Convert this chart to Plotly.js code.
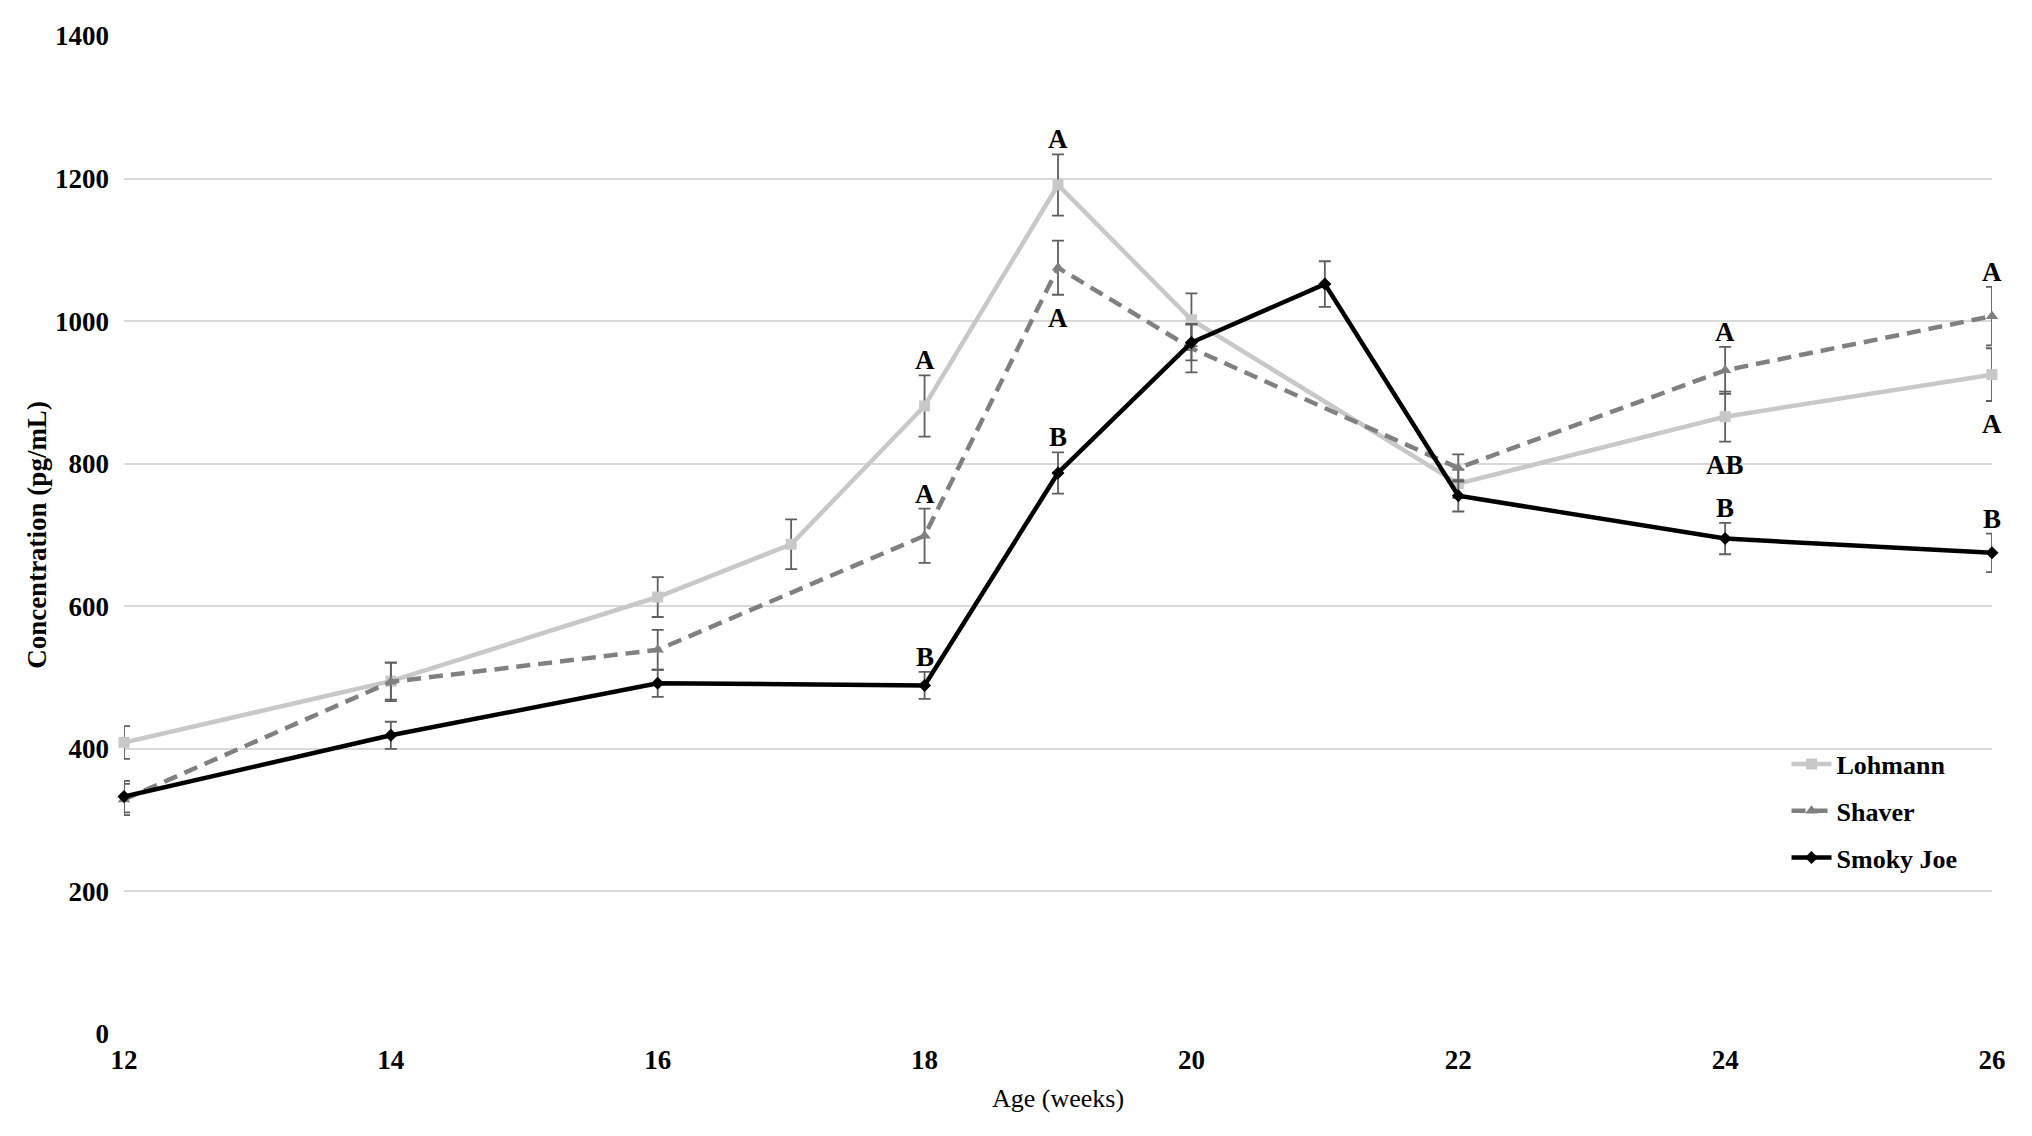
<!DOCTYPE html>
<html>
<head>
<meta charset="utf-8">
<script src="https://cdn.plot.ly/plotly-3.0.1.min.js"></script>
<style>
  html, body { margin: 0; padding: 0; background: #fff; }
  #chart { width: 2032px; height: 1136px; }
</style>
</head>
<body>
<div id="chart"></div>
<script>
// Age in weeks for each breed (not every breed was sampled at 17 and 21 wk)
var weeksLohmann = [12, 14, 16, 17, 18, 19, 20, 22, 24, 26]
var weeksShaver = [12, 14, 16, 18, 19, 20, 22, 24, 26]
var weeksSmoky = [12, 14, 16, 18, 19, 20, 21, 22, 24, 26]

// concentration (pg/mL) and SEM
var lohmann = [409, 495, 613, 687, 881, 1191, 1002, 772, 866, 925]
var lohmannErr = [23, 26, 28, 35, 43, 43, 37, 20, 35, 37]
var shaver = [329, 494, 539, 699, 1075, 962, 794, 931, 1007]
var shaverErr = [22, 27, 28, 38, 38, 34, 19, 33, 41]
var smoky = [333, 419, 492, 489, 787, 970, 1052, 755, 695, 675]
var smokyErr = [22, 19, 19, 19, 29, 25, 32, 22, 22, 27]

// significance letters, '' = none; side: 1 above the bar, -1 below
var lohmannLetters = ['', '', '', '', 'A', 'A', '', '', 'AB', 'A']
var lohmannSide = [0, 0, 0, 0, 1, 1, 0, 0, -1, -1]
var shaverLetters = ['', '', '', 'A', 'A', '', '', 'A', 'A']
var shaverSide = [0, 0, 0, 1, -1, 0, 0, 1, 1]
var smokyLetters = ['', '', '', 'B', 'B', '', '', '', 'B', 'B']
var smokySide = [0, 0, 0, 1, 1, 0, 0, 0, 1, 1]

var xTicks = [12, 14, 16, 18, 20, 22, 24, 26]

var serif = '"Liberation Serif", "Times New Roman", serif'
var errColor = '#5f5f5f'

function makeTrace(name, x, y, err, color, dash, symbol, size, group) {
    return {
        x: x,
        y: y,
        name: name,
        type: 'scatter',
        mode: 'lines+markers',
        cliponaxis: false,
        legendgroup: group,
        line: { color: color, width: 4.5, dash: dash },
        marker: { color: color, symbol: symbol, size: size },
        error_y: {
            type: 'data',
            array: err,
            visible: true,
            color: errColor,
            thickness: 1.8,
            width: 6
        }
    }
}

function makeLetters(x, y, err, letters, side) {
    var out = []
    for (var i = 0; i < x.length; i++) {
        if (!letters[i]) continue
        var up = side[i] > 0
        out.push({
            x: x[i],
            y: up ? y[i] + err[i] : y[i] - err[i],
            xref: 'x',
            yref: 'y',
            text: letters[i],
            showarrow: false,
            yanchor: up ? 'bottom' : 'top',
            yshift: up ? -2 : -6,
            font: { family: serif, size: 27, color: '#000', weight: 'bold' }
        })
    }
    return out
}

var traces = [
    makeTrace('Lohmann', weeksLohmann, lohmann, lohmannErr, '#c8c8c8', 'solid', 'square', 11, 'g1'),
    makeTrace('Shaver', weeksShaver, shaver, shaverErr, '#808080', '14px,8px', 'triangle-up', 11, 'g2'),
    makeTrace('Smoky Joe', weeksSmoky, smoky, smokyErr, '#000000', 'solid', 'diamond', 10, 'g3')
]

var annotations = []
    .concat(makeLetters(weeksLohmann, lohmann, lohmannErr, lohmannLetters, lohmannSide))
    .concat(makeLetters(weeksShaver, shaver, shaverErr, shaverLetters, shaverSide))
    .concat(makeLetters(weeksSmoky, smoky, smokyErr, smokyLetters, smokySide))

var layout = {
    width: 2032,
    height: 1136,
    margin: { l: 124, r: 40, t: 36, b: 102 },
    paper_bgcolor: '#ffffff',
    plot_bgcolor: '#ffffff',
    font: { family: serif, size: 26, color: '#000' },
    showlegend: true,
    legend: {
        x: 0.890,
        y: 0.294,
        xanchor: 'left',
        yanchor: 'top',
        bgcolor: 'rgba(255,255,255,0)',
        tracegroupgap: 10,
        traceorder: 'grouped',
        itemwidth: 40,
        font: { family: serif, size: 26, color: '#000', weight: 'bold' }
    },
    xaxis: {
        range: [12, 26],
        tickvals: xTicks,
        showgrid: false,
        zeroline: false,
        showline: false,
        ticks: '',
        ticklabelstandoff: 7,
        tickfont: { family: serif, size: 27, color: '#000', weight: 'bold' },
        title: { text: 'Age (weeks)', font: { family: serif, size: 26, color: '#000' }, standoff: 14 }
    },
    yaxis: {
        range: [0, 1400],
        dtick: 200,
        showgrid: true,
        gridcolor: '#d9d9d9',
        gridwidth: 2,
        zeroline: false,
        showline: false,
        ticks: '',
        ticklabelstandoff: 14,
        tickfont: { family: serif, size: 27, color: '#000', weight: 'bold' },
        title: { text: 'Concentration (pg/mL)', font: { family: serif, size: 27, color: '#000', weight: 'bold' }, standoff: 0 }
    },
    annotations: annotations
}

var config = { displayModeBar: false, staticPlot: true }

Plotly.newPlot('chart', traces, layout, config)
</script>
</body>
</html>
